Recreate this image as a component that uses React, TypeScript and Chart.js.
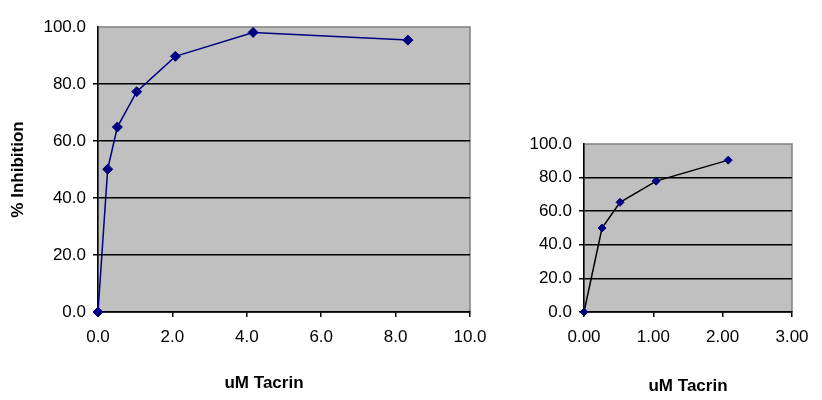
import React, { useEffect, useRef } from "react";
import { Chart, registerables } from "chart.js";

Chart.register(...registerables);

// Full range data (left chart)
const tacrinFull = [0, 0.26, 0.52, 1.04, 2.08, 4.17, 8.33];
const inhibitionFull = [0, 50.1, 64.9, 77.3, 89.7, 98.1, 95.4];

// Low range data (right chart)
const tacrinLow = [0, 0.26, 0.52, 1.04, 2.08];
const inhibitionLow = [0, 50.0, 65.3, 77.9, 90.4];

const xTitle = "uM Tacrin";
const yTitle = "% Inhibition";

const plotBg = {
  id: "plotBg",
  beforeDraw(chart: any) {
    const { ctx, chartArea } = chart;
    ctx.save();
    ctx.fillStyle = "#c0c0c0";
    ctx.fillRect(chartArea.left, chartArea.top, chartArea.right - chartArea.left, chartArea.bottom - chartArea.top);
    ctx.strokeStyle = "#808080";
    ctx.lineWidth = 1.5;
    ctx.strokeRect(chartArea.left, chartArea.top, chartArea.right - chartArea.left, chartArea.bottom - chartArea.top);
    ctx.restore();
  },
};

const offsetTitle = {
  id: "offsetTitle",
  afterDraw(chart: any, _args: any, opts: any) {
    if (!opts || !opts.text) return;
    const { ctx, chartArea } = chart;
    ctx.save();
    ctx.font = "bold 17px 'Liberation Sans', Arial, sans-serif";
    ctx.fillStyle = "#000";
    ctx.textAlign = "center";
    ctx.textBaseline = "middle";
    ctx.fillText(opts.text, (chartArea.left + chartArea.right) / 2 + opts.dx, opts.y);
    ctx.restore();
  },
};

const FONT = "'Liberation Sans', Arial, sans-serif";

function makeConfig(
  xs: number[],
  ys: number[],
  opt: {
    xMax: number;
    xStep: number;
    xDecimals: number;
    lineColor: string;
    radius: number;
    padding: any;
    yWidth: number;
    xHeight: number;
    showYTitle: boolean;
    xTitleOnScale: boolean;
    plugTitle: any;
  }
): any {
  return {
    type: "scatter",
    data: {
      datasets: [
        {
          data: xs.map((x, i) => ({ x, y: ys[i] })),
          showLine: true,
          clip: false,
          borderColor: opt.lineColor,
          borderWidth: 1.5,
          pointStyle: "rectRot",
          pointRadius: opt.radius,
          pointHoverRadius: opt.radius,
          pointBackgroundColor: "#000080",
          pointBorderColor: "#000080",
          pointBorderWidth: 1,
          tension: 0,
        },
      ],
    },
    options: {
      animation: false,
      responsive: false,
      maintainAspectRatio: false,
      events: [],
      layout: { padding: opt.padding },
      plugins: {
        legend: { display: false },
        tooltip: { enabled: false },
        title: { display: false },
        offsetTitle: opt.plugTitle,
      },
      scales: {
        x: {
          type: "linear",
          min: 0,
          max: opt.xMax,
          afterFit: (s: any) => {
            s.height = opt.xHeight;
          },
          ticks: {
            stepSize: opt.xStep,
            color: "#000",
            padding: 10,
            maxRotation: 0,
            autoSkip: false,
            font: { family: FONT, size: 17 },
            callback: (v: any) => Number(v).toFixed(opt.xDecimals),
          },
          grid: {
            drawOnChartArea: false,
            drawTicks: true,
            tickLength: 5,
            color: "#000",
            lineWidth: 1.5,
          },
          border: { display: true, color: "#000", width: 1.5 },
          title: {
            display: opt.xTitleOnScale,
            text: xTitle,
            color: "#000",
            font: { family: FONT, size: 17, weight: "bold" },
            padding: { top: 0, bottom: 3 },
          },
        },
        y: {
          type: "linear",
          min: 0,
          max: 100,
          afterFit: (s: any) => {
            s.width = opt.yWidth;
          },
          ticks: {
            stepSize: 20,
            color: "#000",
            padding: 7,
            font: { family: FONT, size: 17 },
            callback: (v: any) => Number(v).toFixed(1),
          },
          grid: {
            drawTicks: true,
            tickLength: 5,
            color: (c: any) => (c.tick && c.tick.value === 100 ? "rgba(0,0,0,0)" : "#000"),
            lineWidth: 1.5,
          },
          border: { display: true, color: "#000", width: 1.5 },
          title: {
            display: opt.showYTitle,
            text: yTitle,
            color: "#000",
            font: { family: FONT, size: 17, weight: "bold" },
            padding: { top: 8, bottom: 0 },
          },
        },
      },
    },
    plugins: [plotBg, offsetTitle],
  };
}

export default function App() {
  const leftRef = useRef<HTMLCanvasElement>(null);
  const rightRef = useRef<HTMLCanvasElement>(null);

  useEffect(() => {
    const left = new Chart(
      leftRef.current as HTMLCanvasElement,
      makeConfig(tacrinFull, inhibitionFull, {
        xMax: 10,
        xStep: 2,
        xDecimals: 1,
        lineColor: "#000080",
        radius: 5,
        padding: { left: 0, right: 50, top: 27, bottom: 0 },
        yWidth: 98,
        xHeight: 88,
        showYTitle: true,
        xTitleOnScale: false,
        plugTitle: { text: xTitle, dx: -20, y: 383 },
      })
    );
    const right = new Chart(
      rightRef.current as HTMLCanvasElement,
      makeConfig(tacrinLow, inhibitionLow, {
        xMax: 3,
        xStep: 1,
        xDecimals: 2,
        lineColor: "#000000",
        radius: 4,
        padding: { left: 0, right: 30, top: 144, bottom: 0 },
        yWidth: 84,
        xHeight: 88,
        showYTitle: false,
        xTitleOnScale: true,
        plugTitle: { text: "" },
      })
    );
    return () => {
      left.destroy();
      right.destroy();
    };
  }, []);

  return (
    <div
      style={{
        position: "fixed",
        left: 0,
        top: 0,
        width: 822,
        height: 400,
        background: "#fff",
        overflow: "hidden",
      }}
    >
      <canvas
        ref={leftRef}
        width={520}
        height={400}
        style={{ position: "absolute", left: 0, top: 0, width: 520, height: 400 }}
      />
      <canvas
        ref={rightRef}
        width={322}
        height={400}
        style={{ position: "absolute", left: 500, top: 0, width: 322, height: 400 }}
      />
    </div>
  );
}
